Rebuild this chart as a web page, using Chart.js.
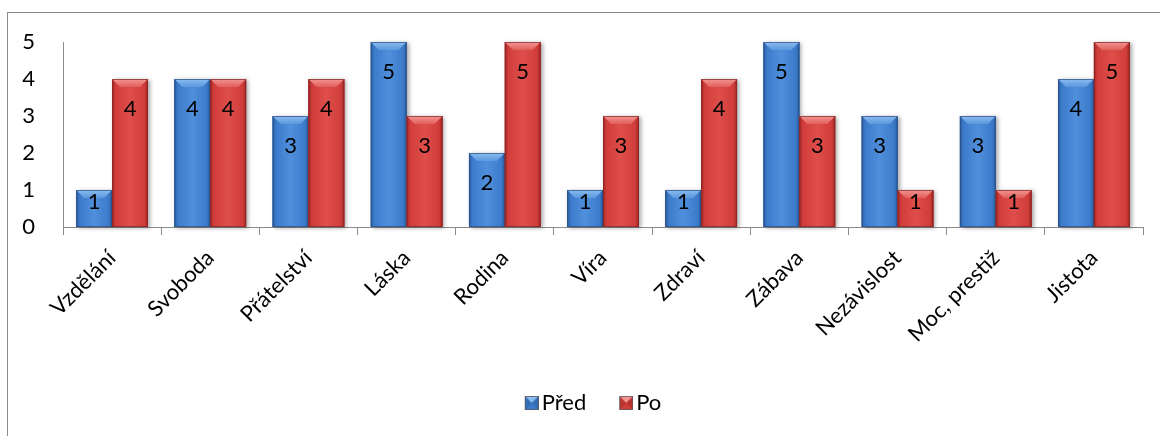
<!DOCTYPE html>
<html>
<head>
<meta charset="utf-8">
<script src="https://cdn.jsdelivr.net/npm/chart.js@4/dist/chart.umd.min.js"></script>
<style>
html,body{margin:0;padding:0;background:#fff;}
#wrap{width:1160px;height:436px;position:relative;}
</style>
</head>
<body>
<div id="wrap"><canvas id="c" width="1160" height="436"></canvas></div>
<script>
const categories = ['Vzdělání','Svoboda','Přátelství','Láska','Rodina','Víra','Zdraví','Zábava','Nezávislost','Moc, prestiž','Jistota'];
const seriesNames = ['Před','Po'];
const predValues = [1,4,3,5,2,1,1,5,3,3,4];
const poValues = [4,4,4,3,5,3,4,3,1,1,5];
const yTicks = [0,1,2,3,4,5];

const FONT = 'Lato';
const FS = 22;
const palettes = [
  {mid:'#3c7bcb', light:'#4f8fdb', edge:'#2b5e9f', bevTop:'#8bbcf0', bevBot:'#5a98de', stroke:'rgba(40,75,130,0.7)'},
  {mid:'#d13d3a', light:'#de4e4a', edge:'#a02826', bevTop:'#f29592', bevBot:'#e15f5b', stroke:'rgba(130,35,35,0.7)'}
];

function drawBevelBar(ctx, x, w, top, base, pal){
  const l = x - w/2, r = x + w/2, h = base - top;
  if (h <= 0) return;
  ctx.save();
  ctx.shadowColor = 'rgba(0,0,0,0.35)';
  ctx.shadowBlur = 4; ctx.shadowOffsetX = 2; ctx.shadowOffsetY = 1;
  ctx.fillStyle = pal.mid;
  ctx.fillRect(l, top, w, h);
  ctx.restore();
  const g = ctx.createLinearGradient(l, 0, r, 0);
  g.addColorStop(0, pal.edge); g.addColorStop(0.1, pal.mid);
  g.addColorStop(0.5, pal.light); g.addColorStop(0.9, pal.mid); g.addColorStop(1, pal.edge);
  ctx.fillStyle = g; ctx.fillRect(l, top, w, h);
  const b = Math.min(8, h/3);
  ctx.beginPath();
  ctx.moveTo(l, top); ctx.lineTo(r, top); ctx.lineTo(r - b, top + b); ctx.lineTo(l + b, top + b); ctx.closePath();
  const gb = ctx.createLinearGradient(0, top, 0, top + b);
  gb.addColorStop(0, pal.bevTop); gb.addColorStop(1, pal.bevBot);
  ctx.fillStyle = gb; ctx.fill();
  ctx.strokeStyle = pal.stroke; ctx.lineWidth = 1;
  ctx.strokeRect(l + 0.5, top + 0.5, w - 1, h - 1);
}

// legend icon: 14px bevelled square at the right end of a wider transparent canvas
function makeIcon(pal){
  const W = 45, S = 14, o = W - S;
  const c = document.createElement('canvas');
  c.width = W; c.height = S;
  const x = c.getContext('2d');
  x.fillStyle = pal.mid; x.fillRect(o,0,S,S);
  x.fillStyle = pal.bevTop;
  x.beginPath(); x.moveTo(o,0); x.lineTo(o+S,0); x.lineTo(o+S/2,S/2); x.closePath(); x.fill();
  x.fillStyle = pal.edge; x.globalAlpha = 0.5;
  x.beginPath(); x.moveTo(o,0); x.lineTo(o+S/2,S/2); x.lineTo(o,S); x.closePath(); x.fill();
  x.beginPath(); x.moveTo(o+S,0); x.lineTo(o+S/2,S/2); x.lineTo(o+S,S); x.closePath(); x.fill();
  x.globalAlpha = 1;
  x.strokeStyle = 'rgba(90,90,90,0.8)'; x.strokeRect(o+0.5,0.5,S-1,S-1);
  return c;
}
const icons = palettes.map(makeIcon);

const framePlugin = {
  id: 'frame',
  beforeDraw(chart){
    const ctx = chart.ctx;
    ctx.save();
    ctx.fillStyle = '#fff'; ctx.fillRect(0,0,chart.width,chart.height);
    ctx.strokeStyle = '#8c8c8c'; ctx.lineWidth = 1;
    ctx.strokeRect(7.5, 12.5, 1400, 600);
    ctx.restore();
  }
};

const barPlugin = {
  id: 'bevelBars',
  afterDatasetsDraw(chart){
    const ctx = chart.ctx;
    ctx.save();
    chart.data.datasets.forEach((ds, di) => {
      const meta = chart.getDatasetMeta(di);
      meta.data.forEach(el => {
        const p = el.getProps(['x','y','base','width'], true);
        drawBevelBar(ctx, p.x, p.width, p.y, p.base, palettes[di]);
      });
    });
    ctx.fillStyle = '#000';
    ctx.font = FS + 'px ' + FONT;
    ctx.textAlign = 'center'; ctx.textBaseline = 'middle';
    chart.data.datasets.forEach((ds, di) => {
      const meta = chart.getDatasetMeta(di);
      meta.data.forEach((el, i) => {
        const p = el.getProps(['x','y','base'], true);
        const h = p.base - p.y;
        const yy = p.y + Math.min(30, h - 25);
        ctx.fillText(String(ds.data[i]), p.x, yy);
      });
    });
    ctx.restore();
  }
};

new Chart(document.getElementById('c'), {
  type: 'bar',
  data: {
    labels: categories,
    datasets: [
      {label: seriesNames[0], data: predValues, backgroundColor: palettes[0].mid, borderWidth: 0},
      {label: seriesNames[1], data: poValues, backgroundColor: palettes[1].mid, borderWidth: 0}
    ]
  },
  options: {
    responsive: false,
    animation: false,
    events: [],
    layout: {padding: {left: 20, right: 17, top: 42, bottom: 12}},
    datasets: {bar: {categoryPercentage: 0.73, barPercentage: 1}},
    plugins: {
      tooltip: {enabled: false},
      legend: {
        position: 'bottom',
        labels: {
          font: {family: FONT, size: FS},
          color: '#000',
          usePointStyle: true,
          pointStyleWidth: 29,
          padding: 10,
          generateLabels(chart){
            const items = Chart.defaults.plugins.legend.labels.generateLabels(chart);
            items.forEach((it, i) => { it.pointStyle = icons[i]; });
            return items;
          }
        }
      }
    },
    scales: {
      x: {
        grid: {display: true, drawOnChartArea: false, offset: true, tickLength: 8, color: '#8c8c8c'},
        border: {display: true, color: '#8c8c8c'},
        ticks: {font: {family: FONT, size: FS}, color: '#000', minRotation: 45, maxRotation: 45, autoSkip: false, padding: 10},
        afterFit(s){ s.height = 155; }
      },
      y: {
        min: 0, max: 5,
        afterBuildTicks(s){ s.ticks = yTicks.map(v => ({value: v})); },
        grid: {display: false, drawOnChartArea: false, drawTicks: false},
        border: {display: true, color: '#8c8c8c'},
        ticks: {font: {family: FONT, size: FS}, color: '#000', padding: 28},
        afterFit(s){ s.width = 43; }
      }
    }
  },
  plugins: [framePlugin, barPlugin]
});
</script>
</body>
</html>
